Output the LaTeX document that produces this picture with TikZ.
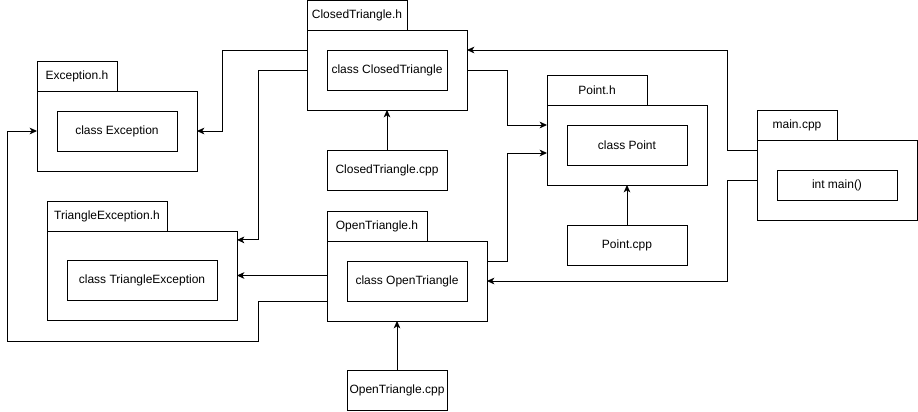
\documentclass[tikz,border=0pt]{standalone}
\usepackage{fontspec}
\setmainfont{Liberation Sans}
\usetikzlibrary{arrows.meta,calc}

\begin{document}
\begin{tikzpicture}[x=0.75pt,y=-0.75pt,
  boxsize/.style 2 args={minimum width=#1*0.75pt,minimum height=#2*0.75pt},
  box/.style={draw,line width=0.75pt,inner sep=0pt,outer sep=0pt,font=\fontsize{9}{11}\selectfont},
  pkgbody/.style={box,boxsize={160}{80}},
  pkgtab/.style={box,anchor=south west,boxsize={100}{30}},
  cls/.style={box,boxsize={120}{40}},
  dep/.style={line width=0.75pt,-{Stealth[length=5.5pt,width=5pt,inset=1.5pt]}}]
\path[use as bounding box] (0,0) rectangle (918,411);
% packages
\node[pkgbody] (exBody) at (117,131) {};
\node[pkgtab,boxsize={80}{30}] (exTab) at (exBody.north west) {Exception.h};
\node[cls] (exCls) at (exBody) {class Exception};
\node[pkgbody] (ctBody) at (387,70) {};
\node[pkgtab] (ctTab) at (ctBody.north west) {ClosedTriangle.h};
\node[cls] (ctCls) at (ctBody) {class ClosedTriangle};
\node[pkgbody] (ptBody) at (627,145) {};
\node[pkgtab] (ptTab) at (ptBody.north west) {Point.h};
\node[cls] (ptCls) at (ptBody) {class Point};
\node[pkgbody] (mnBody) at (837,180) {};
\node[pkgtab,boxsize={80}{30}] (mnTab) at (mnBody.north west) {main.cpp};
\node[cls,boxsize={120}{30}] (mnCls) at (837,185) {int main()};
\node[pkgbody,boxsize={190}{89}] (teBody) at (142,275.5) {};
\node[pkgtab,boxsize={120}{30}] (teTab) at (teBody.north west) {TriangleException.h};
\node[cls,boxsize={150}{40}] (teCls) at (142,280) {class TriangleException};
\node[pkgbody] (otBody) at (407,281) {};
\node[pkgtab] (otTab) at (otBody.north west) {OpenTriangle.h};
\node[cls] (otCls) at (otBody) {class OpenTriangle};
% sources
\node[cls] (ctSrc) at (387,170) {ClosedTriangle.cpp};
\node[cls] (ptSrc) at (627,245) {Point.cpp};
\node[cls,boxsize={100}{40}] (otSrc) at (397,390) {OpenTriangle.cpp};
% connection points
\coordinate (ctW) at ($(ctBody.north west)!.25!(ctBody.south west)$);
\coordinate (ctE) at ($(ctBody.north east)!.25!(ctBody.south east)$);
\coordinate (ptW1) at ($(ptBody.north west)!.25!(ptBody.south west)$);
\coordinate (ptW2) at ($(ptBody.north west)!.6!(ptBody.south west)$);
\coordinate (mnW) at ($(mnBody.north west)!.125!(mnBody.south west)$);
\coordinate (otE) at ($(otBody.north east)!.25!(otBody.south east)$);
\coordinate (otW) at ($(otBody.north west)!.75!(otBody.south west)$);
\coordinate (teE) at ($(teBody.north east)!.1!(teBody.south east)$);
% dependencies
\draw[dep] (ctW) -- ++(-85,0) |- (exBody.east);
\draw[dep] (ctBody.west) -- ++(-49,0) |- (teE);
\draw[dep] (ctSrc.north) -- (ctBody.south);
\draw[dep] (mnW) -- ++(-30,0) |- (ctE);
\draw[dep] (ctBody.east) -- ++(40,0) |- (ptW1);
\draw[dep] (otE) -- ++(20,0) |- (ptW2);
\draw[dep] (mnBody.west) -- ++(-30,0) |- (otBody.east);
\draw[dep] (ptSrc.north) -- (ptBody.south);
\draw[dep] (otSrc.north) -- (otSrc.north |- otBody.south);
\draw[dep] (otBody.west |- teBody.east) -- (teBody.east);
\draw[dep] (otW) -- ++(-69,0) |- ++(-251,40) |- (exBody.west);
\end{tikzpicture}
\end{document}
